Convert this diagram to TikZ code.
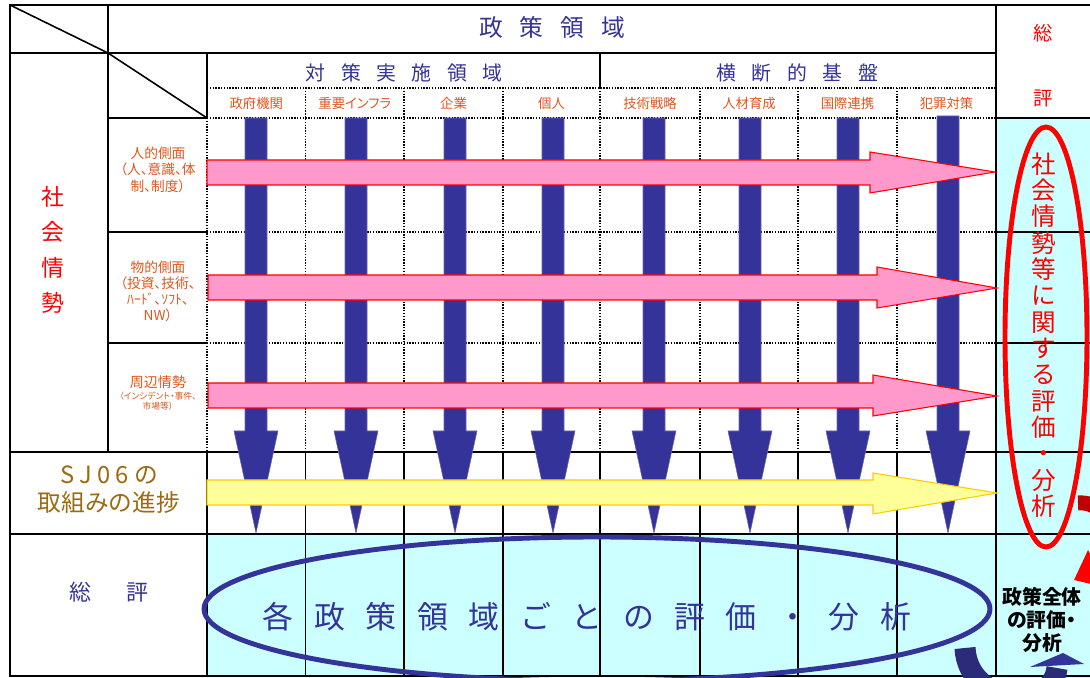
\documentclass[tikz,border=0pt]{standalone}
\usepackage{fontspec}
\setmainfont{Noto Sans CJK JP}
\newfontfamily\jpp{Noto Sans CJK JP}[CharacterWidth=AlternateProportional]
\definecolor{navy}{HTML}{333399}
\definecolor{cyanbg}{HTML}{CCFFFF}
\definecolor{lbl}{HTML}{E0561E}
\definecolor{brownsj}{HTML}{9C6A10}
\definecolor{pinkf}{HTML}{FF99CC}
\definecolor{yelf}{HTML}{FFFF99}
\definecolor{yeld}{HTML}{FFCC00}
\definecolor{darkred}{HTML}{C00000}
\definecolor{darknavy}{HTML}{2B2B7A}
\newcommand\setfs[2]{\fontsize{#1}{#2}\selectfont}
\makeatletter
\newcommand\lspaced[2]{\begingroup\def\sp@gap{#1}\let\sp@first\relax\@tfor\sp@c:=#2\do{\ifx\sp@first\relax\let\sp@first\@empty\else\hspace{\sp@gap}\fi\sp@c}\endgroup}
\makeatother
\begin{document}
\begin{tikzpicture}[x=0.02cm,y=-0.02cm,
  solidline/.style={line width=0.9pt,black},
  dotline/.style={line width=0.8pt,black,dash pattern=on 0.8pt off 0.8pt},
  outerline/.style={line width=1.5pt,black},
  downarrow/.style={fill=navy,draw=navy!75!white,line width=0.3pt},
  pinkarrow/.style={fill=pinkf,draw=red,line width=0.6pt},
  yelarrow/.style={fill=yelf,draw=yeld,line width=0.6pt},
  txt/.style={inner sep=0pt,align=center},
]
\useasboundingbox (0,0) rectangle (1090,678);
\clip (0,0) rectangle (1090,678);
\fill[white] (0,0) rectangle (1090,678);
% fills
\fill[cyanbg] (996,118) rectangle (1090,678);
\fill[cyanbg] (207,534) rectangle (996,676);
% dotted grid
\draw[dotline] (207,88) -- (996,88);
\draw[dotline] (207,118) -- (996,118);
\draw[dotline] (207,232) -- (996,232);
\draw[dotline] (207,343) -- (996,343);
\draw[dotline] (207,118) -- (207,452);
\foreach \x in {305.6,404,503,600,700,798,897} \draw[dotline] (\x,88) -- (\x,452);
% solid grid
\draw[solidline] (108,5) -- (108,452);
\draw[solidline] (10,53) -- (996,53);
\draw[solidline] (207,53) -- (207,118);
\draw[solidline] (600,53) -- (600,88);
\draw[solidline] (108,118) -- (207,118);
\draw[solidline] (108,232) -- (207,232);
\draw[solidline] (108,343) -- (207,343);
\draw[solidline] (996,118) -- (1090,118);
\draw[solidline] (996,232) -- (1090,232);
\draw[solidline] (996,343) -- (1090,343);
\draw[solidline] (10,452) -- (1090,452);
\draw[solidline] (10,534) -- (1090,534);
\foreach \x in {207,305.6,404,503,600,700,798,897} \draw[solidline] (\x,452) -- (\x,676);
\draw[solidline] (10,5) -- (108,53);
\draw[solidline] (108,53) -- (207,118);
\draw[outerline] (1090,5) -- (10,5) -- (10,676) -- (1090,676);
\draw[outerline] (996,5) -- (996,676);
% blue down arrows
\foreach \c/\t in {256/118,356/118,455/118,553/118,654/118,750/118,848/118,948/116}
  \filldraw[downarrow] ({\c-11},\t) -- ({\c+11},\t) -- ({\c+11},431) -- ({\c+22},431) -- (\c,533) -- ({\c-22},431) -- ({\c-11},431) -- cycle;
% pink and yellow arrows
\filldraw[pinkarrow] (207,160) -- (870,160) -- (870,152) -- (995,172) -- (870,193) -- (870,185) -- (207,185) -- cycle;
\filldraw[pinkarrow] (208,275) -- (877,275) -- (877,267) -- (997,288) -- (877,308) -- (877,300) -- (208,300) -- cycle;
\filldraw[pinkarrow] (208,383) -- (873,383) -- (873,375) -- (997,396) -- (873,416) -- (873,408) -- (208,408) -- cycle;
\filldraw[yelarrow] (207,480) -- (873,480) -- (873,473) -- (997,493) -- (873,514) -- (873,505) -- (207,505) -- cycle;
% ellipses
\draw[navy,line width=2.8pt] (597,609) ellipse [x radius=393, y radius=72];
\draw[red,line width=2.8pt] (1046,337) ellipse [x radius=41, y radius=210];
% curved arrows
\draw[darkred,line width=8.5pt] (1078,503) .. controls (1112,500) and (1122,552) .. (1098,569);
\fill[red] (1074,580) -- (1088,550) -- (1108,588) -- cycle;
\draw[darknavy,line width=12pt] (965,648) .. controls (968,705) and (1052,712) .. (1057,668);
\fill[navy] (1030,667) -- (1063,653) -- (1084,664) -- cycle;
% header texts
\node[txt,navy,font=\setfs{13.5pt}{15pt}] (hdr) at (552,27) {\lspaced{9.7pt}{政策領域}};
\node[txt,navy,font=\setfs{11.3pt}{13pt}] (taisaku) at (404,73) {\lspaced{8.8pt}{対策実施領域}};
\node[txt,navy,font=\setfs{11.3pt}{13pt}] (kiban) at (797,73) {\lspaced{8.9pt}{横断的基盤}};
\node[txt,red,font=\setfs{11pt}{13pt}] (sou) at (1043,33) {総};
\node[txt,red,font=\setfs{11pt}{13pt}] (hyo) at (1043,98) {評};
% sub labels
\foreach \n/\x/\t in {c1/256.3/政府機関,c2/354.8/重要インフラ,c3/453.5/企業,c4/551.5/個人,c5/650/技術戦略,c6/749/人材育成,c7/847.5/国際連携,c8/946.5/犯罪対策}
  \node[txt,lbl,font=\jpp\setfs{7.6pt}{9pt}] (\n) at (\x,103) {\t};
% left column
\node[txt,red,font=\setfs{13pt}{20.1pt}] (shakai) at (53,250) {社\\会\\情\\勢};
\node[txt,lbl,font=\jpp\setfs{7.8pt}{9.4pt}] (r1) at (158,169.5) {人的側面\\（人、意識、体\\制、制度）};
\node[txt,lbl,font=\jpp\setfs{7.8pt}{9.1pt}] (r2) at (158,291) {物的側面\\（投資、技術、\\ﾊｰﾄﾞ、ｿﾌﾄ、\\NW）};
\node[txt,lbl,font=\jpp\setfs{8pt}{9pt}] (r3) at (158,382) {周辺情勢};
\node[txt,lbl,font=\jpp\setfs{5pt}{6pt}] (r3b) at (158,396) {（インシデント・事件、};
\node[txt,lbl,font=\jpp\setfs{5pt}{6pt}] (r3c) at (158,406) {市場等）};
\node[txt,brownsj,font=\setfs{13.5pt}{15pt}] (sj) at (109,475) {\lspaced{3pt}{SJ06の}};
\node[txt,brownsj,font=\setfs{13.5pt}{15pt}] (torikumi) at (109,503) {取組みの進捗};
\node[txt,navy,font=\setfs{12.5pt}{14pt}] (sohyo) at (109,592) {総\hspace{19.8pt}評};
% ellipse texts
\node[txt,navy,font=\setfs{17.6pt}{20pt}] (kaku) at (587,617) {\lspaced{11.7pt}{各政策領域ごとの評価・分析}};
\node[txt,red,font=\setfs{14pt}{15pt}] (shakaihyoka) at (1044,335) {社\\会\\情\\勢\\等\\に\\関\\す\\る\\評\\価\\・\\分\\析};
\node[txt,black,font=\jpp\bfseries\setfs{11.3pt}{13.3pt}] (zentai) at (1042,620) {政策全体\\の評価・\\分析};
\end{tikzpicture}
\end{document}
